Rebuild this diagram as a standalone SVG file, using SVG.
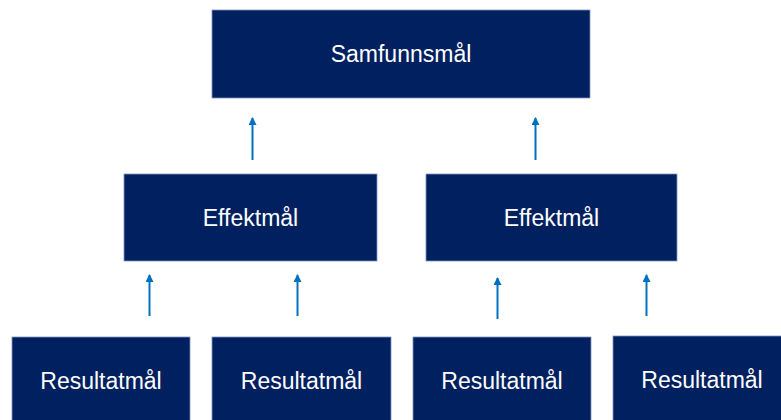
<svg xmlns="http://www.w3.org/2000/svg" width="781" height="420" viewBox="0 0 781 420">
<style>
.box{fill:#002060;stroke:#7f93bd;stroke-width:0.8}
.lbl{fill:#ffffff;font-family:"Liberation Sans",Arial,sans-serif;font-size:23px;text-anchor:middle}
.arr{stroke:#0070c0;stroke-width:2;fill:none;marker-end:url(#ah)}
</style>
<defs>
<marker id="ah" markerWidth="4" markerHeight="4" refX="3.5" refY="2" orient="auto" markerUnits="strokeWidth">
<path d="M0,0 L4,2 L0,4 Z" fill="#0070c0"/>
</marker>
</defs>
<rect width="781" height="420" fill="#ffffff"/>
<g id="samfunnsmal"><rect class="box" x="212" y="10" width="378" height="88"/><text class="lbl" x="401" y="62">Samfunnsmål</text></g>
<g id="effektmal1"><rect class="box" x="124" y="174" width="253" height="87"/><text class="lbl" x="250.5" y="226">Effektmål</text></g>
<g id="effektmal2"><rect class="box" x="426" y="174" width="251" height="87"/><text class="lbl" x="551.5" y="226">Effektmål</text></g>
<g id="resultatmal1"><rect class="box" x="12" y="337" width="178" height="90"/><text class="lbl" x="101" y="389">Resultatmål</text></g>
<g id="resultatmal2"><rect class="box" x="212" y="337" width="179" height="90"/><text class="lbl" x="301.5" y="389">Resultatmål</text></g>
<g id="resultatmal3"><rect class="box" x="413" y="337" width="178" height="90"/><text class="lbl" x="502" y="389">Resultatmål</text></g>
<g id="resultatmal4"><rect class="box" x="613" y="336" width="180" height="90"/><text class="lbl" x="702" y="388">Resultatmål</text></g>
<g id="connectors">
<line class="arr" x1="252.5" y1="160" x2="252.5" y2="118"/>
<line class="arr" x1="535.5" y1="160" x2="535.5" y2="118"/>
<line class="arr" x1="149.5" y1="316" x2="149.5" y2="275"/>
<line class="arr" x1="297.5" y1="316" x2="297.5" y2="275"/>
<line class="arr" x1="497.5" y1="319" x2="497.5" y2="278"/>
<line class="arr" x1="646.5" y1="316" x2="646.5" y2="275"/>
</g>
</svg>
